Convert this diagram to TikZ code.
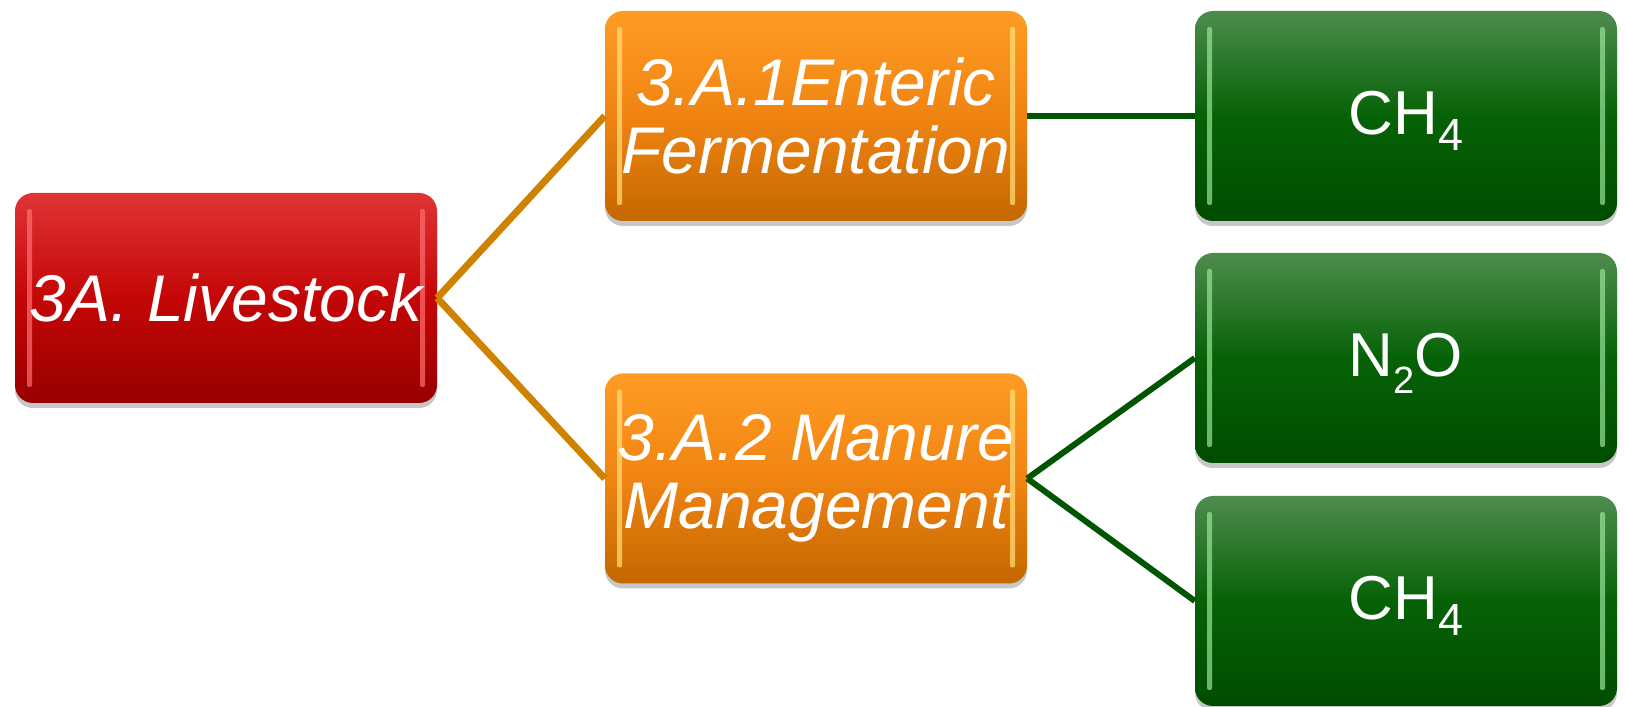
\documentclass[tikz,border=0pt]{standalone}
\usepackage{fontspec}
\setmainfont{Liberation Sans}
\usetikzlibrary{shadows}
\definecolor{rtop}{HTML}{E03436}
\definecolor{rmid}{HTML}{C40606}
\definecolor{rbot}{HTML}{980000}
\definecolor{rhi}{HTML}{FF7070}
\definecolor{otop}{HTML}{FF9C24}
\definecolor{omid}{HTML}{F08412}
\definecolor{obot}{HTML}{C46800}
\definecolor{ohi}{HTML}{FFE27A}
\definecolor{gtop}{HTML}{4E8C4E}
\definecolor{gmid}{HTML}{066206}
\definecolor{gbot}{HTML}{004C00}
\definecolor{ghi}{HTML}{9AE49A}
\definecolor{oline}{HTML}{CE8200}
\definecolor{gline}{HTML}{005600}
\tikzset{
  box/.style n args={4}{rounded corners=18pt, minimum width=422pt, minimum height=210pt,
    inner sep=0pt, text=white, align=center,
    top color=#1, bottom color=#3, middle color=#2,
    drop shadow={shadow xshift=0pt, shadow yshift=-5pt, opacity=0.22, fill=black},
    path picture={
      \fill[#4, opacity=0.7, rounded corners=2pt]
        ([xshift=12pt,yshift=-16pt]path picture bounding box.north west)
        rectangle ([xshift=17pt,yshift=16pt]path picture bounding box.south west);
      \fill[#4, opacity=0.7, rounded corners=2pt]
        ([xshift=-17pt,yshift=-16pt]path picture bounding box.north east)
        rectangle ([xshift=-12pt,yshift=16pt]path picture bounding box.south east);
    }},
  redbox/.style={box={rtop}{rmid}{rbot}{rhi}, font=\fontsize{66}{68}\selectfont\itshape},
  orangebox/.style={box={otop}{omid}{obot}{ohi}, font=\fontsize{66}{68}\selectfont\itshape},
  greenbox/.style={box={gtop}{gmid}{gbot}{ghi}, font=\fontsize{62}{64}\selectfont},
  oconn/.style={draw=oline, line width=7pt},
  gconn/.style={draw=gline, line width=6pt}
}
\newcommand{\subdig}[3]{\smash{\raisebox{-#2pt}{\fontsize{#3}{#3}\selectfont #1}}}
\newcommand{\lift}{\rule[-6pt]{0pt}{6pt}}
\begin{document}
\begin{tikzpicture}[x=1pt,y=1pt]
\useasboundingbox (0,0) rectangle (1626,707);
\node[redbox] (live) at (226,409) {3A. Livestock};
\node[orangebox] (ent) at (816,591) {3.A.1Enteric\\Fermentation};
\node[orangebox] (man) at (816,228.5) {3.A.2 Manure\\Management};
\node[greenbox] (ch1) at (1406,591) {\lift CH\subdig{4}{16}{45}};
\node[greenbox] (n2o) at (1406,349) {\lift N\subdig{2}{17}{38}O};
\node[greenbox] (ch2) at (1406,106) {\lift CH\subdig{4}{16}{45}};
\draw[oconn] (live.east) -- (ent.west);
\draw[oconn] (live.east) -- (man.west);
\draw[gconn] (ent.east) -- (ch1.west);
\draw[gconn] (man.east) -- (n2o.west);
\draw[gconn] (man.east) -- (ch2.west);
\end{tikzpicture}
\end{document}
